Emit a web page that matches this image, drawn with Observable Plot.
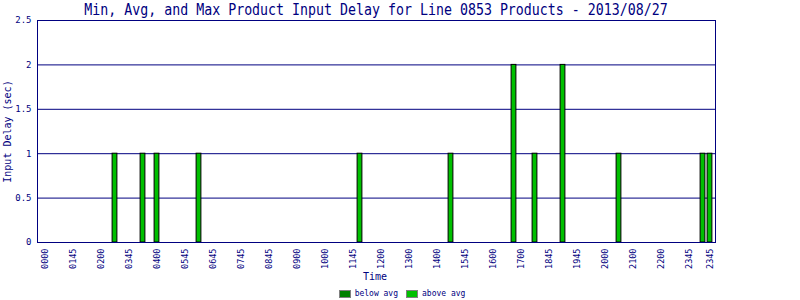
<!DOCTYPE html>
<html>
<head>
<meta charset="utf-8">
<script src="https://cdn.jsdelivr.net/npm/d3@7"></script>
<script src="https://cdn.jsdelivr.net/npm/@observablehq/plot@0.6"></script>
<style>
  html, body { margin: 0; padding: 0; background: #fff; }
  #wrap { position: relative; width: 800px; height: 300px; font-family: "DejaVu Sans Mono", monospace; color: #000080; }
  .abs { position: absolute; white-space: nowrap; }
  #title { left: 6px; width: 740px; top: 3px; text-align: center; font-size: 15px; line-height: 15px; transform: scaleX(0.885); }
  #ylab { left: -93px; width: 200px; top: 126px; text-align: center; font-size: 10px; line-height: 11px; transform: rotate(-90deg); }
  #xlab { left: 325px; width: 100px; top: 271px; text-align: center; font-size: 10px; line-height: 11px; }
  #legend { left: -2px; width: 800px; top: 289px; display: flex; justify-content: center; align-items: center; font-size: 8px; line-height: 9px; }
  .sw { width: 10px; height: 6px; border: 1px solid #808080; margin: 0 4px 0 8px; }
</style>
</head>
<body>
<div id="wrap">
  <div id="chart"></div>
  <div id="title" class="abs">Min, Avg, and Max Product Input Delay for Line 0853 Products - 2013/08/27</div>
  <div id="ylab" class="abs">Input Delay (sec)</div>
  <div id="xlab" class="abs">Time</div>
  <div id="legend" class="abs"></div>
</div>
<script>
// Categories: 96 time slots, only some are labelled
const slotCount = 96;
const tickIndex = [0, 4, 8, 12, 16, 20, 24, 28, 32, 36, 40, 44, 48, 52, 56, 60, 64, 68, 72, 76, 80, 84, 88, 92, 95];
const tickLabels = ["0000", "0145", "0200", "0345", "0400", "0545", "0645", "0745", "0845", "0900", "1000", "1145", "1200",
                    "1300", "1400", "1545", "1600", "1700", "1845", "1945", "2000", "2100", "2200", "2345", "2345"];
// Bars (slot index, delay in seconds)
const barSlot  = [10, 14, 16, 22, 45, 58, 67, 70, 74, 82, 94, 95];
const barValue = [1, 1, 1, 1, 1, 1, 2, 1, 2, 1, 1, 1];
const yTicks = [0, 0.5, 1, 1.5, 2, 2.5];
const legendNames = ["below avg", "above avg"];
const legendColors = ["#008000", "#00c000"];

const data = barSlot.map((s, i) => ({slot: s, value: barValue[i]}));
const labelOf = new Map(tickIndex.map((t, i) => [t, tickLabels[i]]));

const chart = Plot.plot({
  width: 800,
  height: 300,
  marginLeft: 37,
  marginRight: 85,
  marginTop: 20,
  marginBottom: 58,
  style: {fontFamily: "DejaVu Sans Mono, monospace", color: "#000080", background: "#fff"},
  x: {type: "band", domain: d3.range(slotCount), range: [40.5, 712.5], padding: 0},
  y: {domain: [0, 2.5]},
  marks: [
    Plot.ruleY(yTicks.filter(d => d > 0), {stroke: "#000080", strokeWidth: 1}),
    Plot.barY(data, {x: "slot", y: "value", fill: "#00c000", stroke: "#000", strokeWidth: 1, insetLeft: 1.1, insetRight: 1.1}),
    Plot.frame({stroke: "#000080"}),
    Plot.axisY({ticks: yTicks, tickFormat: d => String(d), tickSize: 0, tickPadding: 6, fontSize: 9, label: null}),
    Plot.axisX({ticks: tickIndex, tickFormat: d => labelOf.get(d), tickRotate: -90, tickSize: 0, tickPadding: 6, fontSize: 8.5, label: null})
  ]
});
document.getElementById("chart").appendChild(chart);

const leg = document.getElementById("legend");
legendNames.forEach((n, i) => {
  const sw = document.createElement("span");
  sw.className = "sw";
  sw.style.background = legendColors[i];
  leg.appendChild(sw);
  const t = document.createElement("span");
  t.textContent = n;
  leg.appendChild(t);
});
</script>
</body>
</html>
